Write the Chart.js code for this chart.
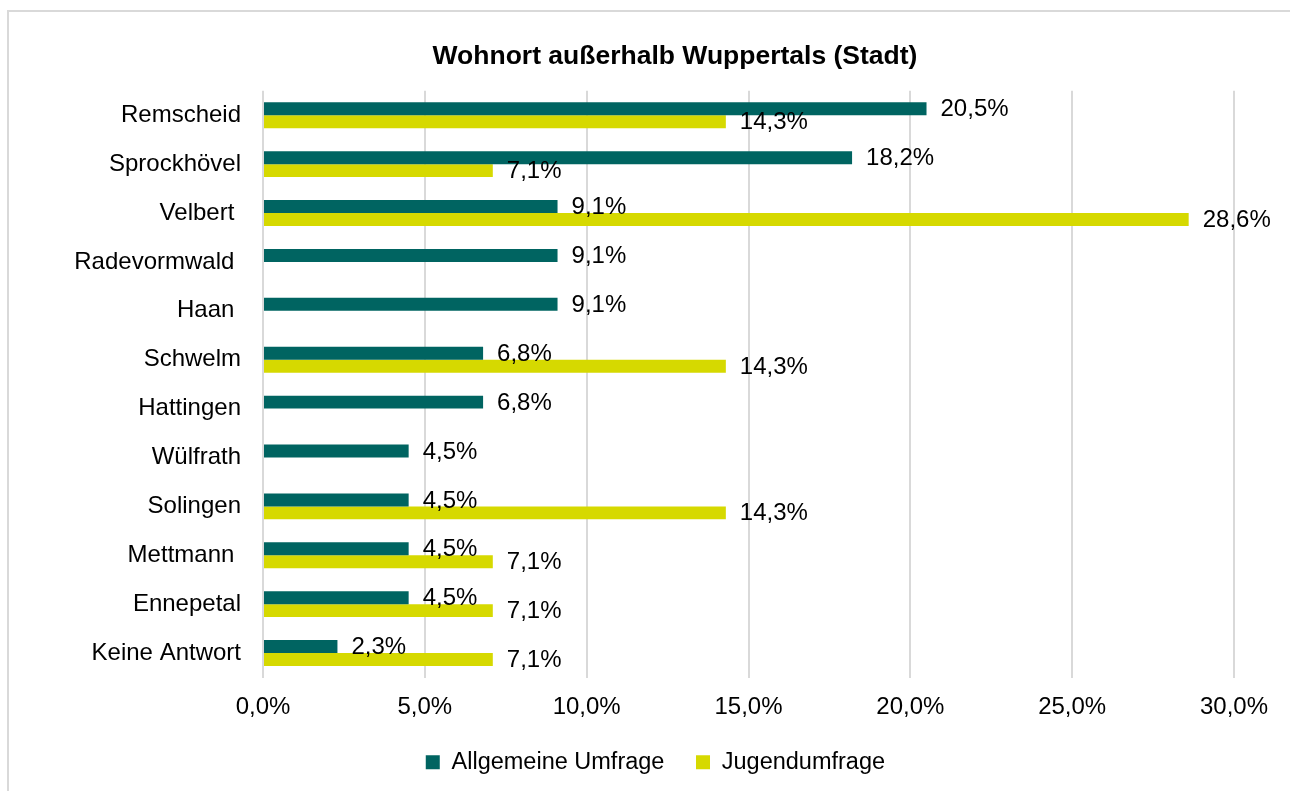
<!DOCTYPE html>
<html lang="de">
<head>
<meta charset="utf-8">
<title>Wohnort außerhalb Wuppertals (Stadt)</title>
<script src="https://cdn.jsdelivr.net/npm/chart.js@4/dist/chart.umd.min.js"></script>
<style>
    html, body {
        margin: 0;
        padding: 0;
        background: #ffffff;
        overflow: hidden;
    }
    #frame {
        position: absolute;
        left: 7px;
        top: 10px;
        width: 1400px;
        height: 900px;
        border: 2px solid #d9d9d9;
    }
    #chart {
        position: absolute;
        left: 0;
        top: 0;
    }
</style>
</head>
<body>
<div id="frame"></div>
<canvas id="chart" width="1290" height="791"></canvas>
<script>
// Werte (Prozent)
const categories = [
    'Remscheid',
    'Sprockhövel',
    'Velbert ',
    'Radevormwald ',
    'Haan ',
    'Schwelm',
    'Hattingen',
    'Wülfrath',
    'Solingen',
    'Mettmann ',
    'Ennepetal',
    'Keine Antwort',
];
const allgemeineUmfrage = [20.5, 18.2, 9.1, 9.1, 9.1, 6.8, 6.8, 4.5, 4.5, 4.5, 4.5, 2.3];
const jugendumfrage = [14.3, 7.1, 28.6, null, null, 14.3, null, null, 14.3, 7.1, 7.1, 7.1];
const seriesNames = ['Allgemeine Umfrage', 'Jugendumfrage'];
const xTicks = [0, 5, 10, 15, 20, 25, 30];

const tealColor = '#006461';
const yellowColor = '#d6d900';
const fontFamily = '"Liberation Sans", Arial, sans-serif';
const textColor = '#000000';

const formatPercent = (value) => `${value.toFixed(1).replace('.', ',')}%`;

// Beschriftung rechts neben jedem Balken
const barValueLabels = {
    id: 'barValueLabels',
    afterDatasetsDraw(chart) {
        const { ctx } = chart;
        ctx.save();
        ctx.font = `24px ${fontFamily}`;
        ctx.fillStyle = textColor;
        ctx.textAlign = 'left';
        ctx.textBaseline = 'middle';
        chart.data.datasets.forEach((dataset, i) => {
            const meta = chart.getDatasetMeta(i);
            meta.data.forEach((bar, j) => {
                const value = dataset.data[j];
                if (value === null || value === undefined) {
                    return;
                }
                ctx.fillText(formatPercent(value), bar.x + 14, bar.y + 1);
            });
        });
        ctx.restore();
    },
};

new Chart(document.getElementById('chart').getContext('2d'), {
    type: 'bar',
    data: {
        labels: categories,
        datasets: [
            {
                label: seriesNames[0] + '   ',
                data: allgemeineUmfrage,
                backgroundColor: tealColor,
                categoryPercentage: 0.53,
                barPercentage: 1,
            },
            {
                label: seriesNames[1] + '      ',
                data: jugendumfrage,
                backgroundColor: yellowColor,
                categoryPercentage: 0.53,
                barPercentage: 1,
            },
        ],
    },
    options: {
        indexAxis: 'y',
        responsive: false,
        animation: false,
        layout: {
            padding: { left: 60, right: 0, top: 0, bottom: 7 },
        },
        scales: {
            x: {
                min: 0,
                max: 30,
                afterBuildTicks(scale) {
                    scale.ticks = xTicks.map((value) => ({ value }));
                },
                afterFit(scale) {
                    scale.height = 61;
                },
                ticks: {
                    color: textColor,
                    padding: 15,
                    font: { family: fontFamily, size: 24 },
                    callback(value) {
                        return formatPercent(value);
                    },
                },
                grid: {
                    color: '#d9d9d9',
                    lineWidth: 2,
                    drawTicks: false,
                },
                border: { display: false },
            },
            y: {
                afterFit(scale) {
                    scale.width = 203;
                },
                ticks: {
                    color: textColor,
                    padding: 22,
                    font: { family: fontFamily, size: 24 },
                },
                grid: { display: false, drawTicks: false },
                border: { display: false },
            },
            rightSpace: {
                type: 'linear',
                position: 'right',
                afterFit(scale) {
                    scale.width = 56;
                },
                ticks: { display: false },
                grid: { display: false, drawTicks: false },
                border: { display: false },
            },
        },
        plugins: {
            title: {
                display: true,
                text: 'Wohnort außerhalb Wuppertals (Stadt)',
                color: textColor,
                font: { family: fontFamily, size: 26.5, weight: 'bold' },
                padding: { top: 41, bottom: 18 },
            },
            legend: {
                position: 'bottom',
                labels: {
                    color: textColor,
                    boxWidth: 14,
                    boxHeight: 14,
                    padding: 12,
                    font: { family: fontFamily, size: 23.5 },
                },
            },
            tooltip: { enabled: false },
        },
    },
    plugins: [barValueLabels],
});
</script>
</body>
</html>
